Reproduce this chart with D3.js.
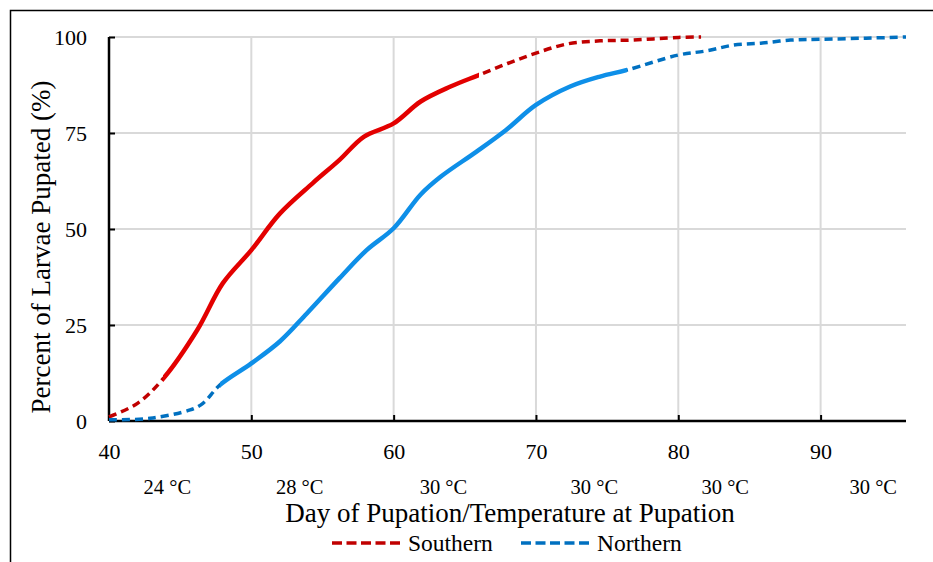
<!DOCTYPE html>
<html>
<head>
<meta charset="utf-8">
<script src="https://cdn.jsdelivr.net/npm/d3@7"></script>
<style>
  body { margin: 0; background: #fff; }
  text { font-family: "Liberation Serif", "Times New Roman", serif; fill: #000; }
</style>
</head>
<body>
<div id="chart-area"></div>
<script>
let width = 933,
    height = 562;

const margin = ({top: 37, right: 27, bottom: 141, left: 109});

// data
const southernDays = [40, 42, 43.8, 46.2, 48, 50, 52, 54.3, 56.2, 57.9, 60, 61.9, 64, 66, 68, 70, 72.2, 74.5, 76.8, 80, 81.6];
const southernPct  = [1.1, 4.6, 11, 23.7, 35.9, 44.5, 54, 61.9, 68, 74, 77.5, 83.2, 87.1, 90.1, 93.1, 95.8, 98.2, 99, 99.2, 99.9, 100];
const northernDays = [40, 42.9, 45.7, 46.6, 47.8, 50, 52, 53.9, 56.2, 58.1, 60, 61.9, 63.3, 65.8, 67.9, 70, 72.4, 74.5, 76.4, 80, 82, 83.9, 85.8, 87.9, 90, 93.2, 96];
const northernPct  = [0.3, 0.7, 2.9, 4.6, 9.4, 15, 20.7, 28, 37.2, 44.5, 50.2, 59, 63.6, 70.1, 75.8, 82.3, 87.1, 89.7, 91.4, 95.3, 96.4, 97.9, 98.4, 99.2, 99.4, 99.7, 100];
// solid part of each curve (day range)
const southernSolid = [43.8, 66];
const northernSolid = [47.8, 76.4];

const xTicks = [40, 50, 60, 70, 80, 90];
const yTicks = [0, 25, 50, 75, 100];
const tempLabels = ["24 °C", "28 °C", "30 °C", "30 °C", "30 °C", "30 °C"];
const tempLabelDays = [44.1, 53.4, 63.5, 74.1, 83.3, 93.7];

const series = [
  {name: "Southern", days: southernDays, pct: southernPct, solid: southernSolid, solidColor: "#e30000", dashColor: "#c00000"},
  {name: "Northern", days: northernDays, pct: northernPct, solid: northernSolid, solidColor: "#0e8fe8", dashColor: "#0070c0"}
];

const svg = d3.select("#chart-area")
  .append("svg")
  .attr("width", width)
  .attr("height", height);

// outer frame (only top and left show)
svg.append("path")
  .attr("d", `M10.5,${height + 5} V10.5 H${width + 5}`)
  .attr("fill", "none")
  .attr("stroke", "#000")
  .attr("stroke-width", 1.5);

let x = d3.scaleLinear()
  .domain([40, 96])
  .range([margin.left, width - margin.right]);
let y = d3.scaleLinear()
  .domain([0, 100])
  .range([height - margin.bottom, margin.top]);

// gridlines
svg.append("g")
  .selectAll("line")
  .data(yTicks.filter(d => d > 0))
  .join("line")
  .attr("x1", x(40)).attr("x2", x(96))
  .attr("y1", d => y(d)).attr("y2", d => y(d))
  .attr("stroke", "#d9d9d9")
  .attr("stroke-width", 2);
svg.append("g")
  .selectAll("line")
  .data(xTicks.filter(d => d > 40))
  .join("line")
  .attr("x1", d => x(d)).attr("x2", d => x(d))
  .attr("y1", y(0)).attr("y2", y(100))
  .attr("stroke", "#d9d9d9")
  .attr("stroke-width", 2);

// axes
const xAxis = g => g
  .attr("transform", `translate(0,${y(0)})`)
  .call(d3.axisBottom(x).tickValues(xTicks).tickSize(-6).tickPadding(22))
  .call(g => g.select(".domain").attr("stroke-width", 2.5).attr("d", `M${x(40)},0H${x(96)}`))
  .call(g => g.selectAll(".tick line").attr("stroke-width", 2))
  .call(g => g.selectAll(".tick text").attr("font-size", 22).attr("font-family", "Liberation Serif"));

const yAxis = g => g
  .attr("transform", `translate(${x(40)},0)`)
  .call(d3.axisLeft(y).tickValues(yTicks).tickSize(-6).tickPadding(22))
  .call(g => g.select(".domain").attr("stroke-width", 2.5).attr("d", `M0,${y(0)}V${y(100)}`))
  .call(g => g.selectAll(".tick line").attr("stroke-width", 2))
  .call(g => g.selectAll(".tick text").attr("font-size", 22).attr("font-family", "Liberation Serif"));

svg.append("g").call(xAxis);
svg.append("g").call(yAxis);

// temperature labels under the day ticks
svg.append("g")
  .selectAll("text")
  .data(tempLabels)
  .join("text")
  .attr("x", (d, i) => x(tempLabelDays[i]))
  .attr("y", 494)
  .attr("text-anchor", "middle")
  .attr("font-size", 20.5)
  .text(d => d);

// axis titles
svg.append("text")
  .attr("x", 510)
  .attr("y", 522)
  .attr("text-anchor", "middle")
  .attr("font-size", 27)
  .text("Day of Pupation/Temperature at Pupation");

svg.append("text")
  .attr("transform", `translate(50,247) rotate(-90)`)
  .attr("text-anchor", "middle")
  .attr("font-size", 27)
  .text("Percent of Larvae Pupated (%)");

// curves: one smooth path, clipped into dashed / solid / dashed parts
const line = d3.line()
  .curve(d3.curveCatmullRom.alpha(0.5))
  .x(d => x(d[0]))
  .y(d => y(d[1]));

const defs = svg.append("defs");

series.forEach((s, si) => {
  const pts = s.days.map((d, i) => [d, s.pct[i]]);
  const parts = [
    {id: `c${si}a`, from: 40, to: s.solid[0], solid: false},
    {id: `c${si}b`, from: s.solid[0], to: s.solid[1], solid: true},
    {id: `c${si}c`, from: s.solid[1], to: 96, solid: false}
  ];
  parts.forEach(p => {
    defs.append("clipPath").attr("id", p.id)
      .append("rect")
      .attr("x", p.from === 40 ? 0 : x(p.from))
      .attr("y", 0)
      .attr("width", (p.to === 96 ? width : x(p.to)) - (p.from === 40 ? 0 : x(p.from)))
      .attr("height", height);
    svg.append("path")
      .datum(pts)
      .attr("clip-path", `url(#${p.id})`)
      .attr("fill", "none")
      .attr("stroke", p.solid ? s.solidColor : s.dashColor)
      .attr("stroke-width", p.solid ? 4.5 : 3.5)
      .attr("stroke-dasharray", p.solid ? null : "8,5")
      .attr("stroke-linecap", p.solid ? "round" : "butt")
      .attr("d", line);
  });
});

// legend
const legendX = [332, 521];
const legend = svg.append("g")
  .selectAll("g")
  .data(series)
  .join("g")
  .attr("transform", (d, i) => `translate(${legendX[i]},543)`);
legend.append("line")
  .attr("x1", 0).attr("x2", 70)
  .attr("stroke", d => d.dashColor)
  .attr("stroke-width", 3.5)
  .attr("stroke-dasharray", "10,4.5");
legend.append("text")
  .attr("x", 76)
  .attr("y", 8)
  .attr("font-size", 23.5)
  .text(d => d.name);
</script>
</body>
</html>
